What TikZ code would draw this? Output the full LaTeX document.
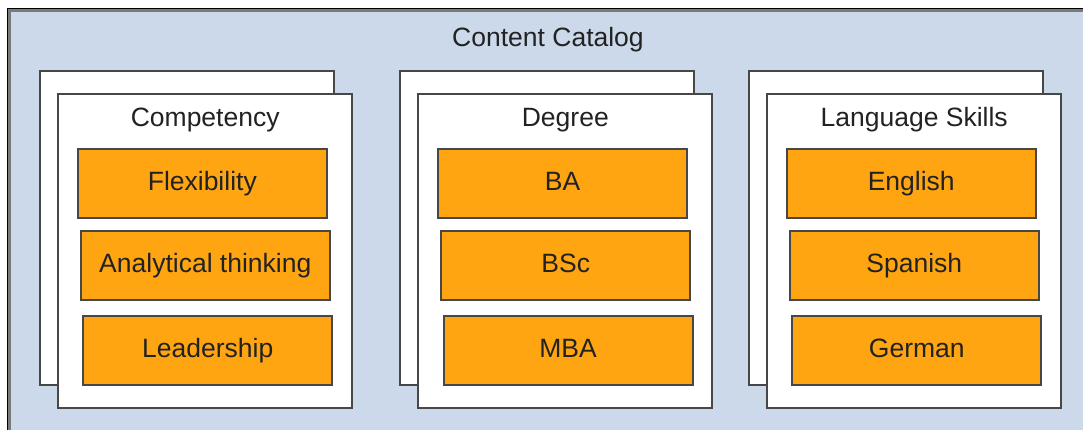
\documentclass[tikz,border=0pt]{standalone}
\usepackage{fontspec}
\setmainfont{Liberation Sans}
\usepackage{tikz}
\usetikzlibrary{positioning}
\definecolor{catblue}{HTML}{CCD9EA}
\definecolor{itemorange}{HTML}{FFA512}
\definecolor{edgegray}{HTML}{474747}
\definecolor{framegray}{HTML}{7A7A7A}
\definecolor{textgray}{HTML}{222222}
\newcommand{\lbl}{\fontsize{26.5}{30}\selectfont}
\tikzstyle{sheet} = [
    draw=edgegray,
    line width=2pt,
    fill=white,
    inner sep=0pt,
    minimum width=294pt,
    minimum height=314pt
]
\tikzstyle{item}  = [
    draw=edgegray,
    line width=2pt,
    fill=itemorange,
    inner sep=0pt,
    minimum width=249pt,
    minimum height=69pt,
    text=textgray,
    font=\lbl,
    text height=19pt,
    text depth=5pt
]
\tikzstyle{head}  = [
    inner sep=0pt,
    text=textgray,
    font=\lbl,
    text height=19pt,
    text depth=5pt
]

\begin{document}
\begin{tikzpicture}[x = 1pt, y = -1pt]
\useasboundingbox (0,0) rectangle (1083,429);
\clip (0,0) rectangle (1083,429);
% catalog frame
\draw[black, line width=1pt] (7,8) rectangle (1100,450);
\draw[framegray, line width=3pt, fill=catblue] (9.5,10.5) rectangle (1100,450);
\node[head] (catalog) at (548,39) {Content Catalog};

% competency
\node[sheet] (compB) at (186.7,227.6) {};
\node[sheet] (compF) at (205.2,250.6) {};
\node[head]  (compH) at (205.2,119.5) {Competency};
\node[item]  (flex)  at (202.3,183.5) {Flexibility};
\node[item]  (anal)  at (205.3,265)   {Analytical thinking};
\node[item]  (lead)  at (207.8,350)   {Leadership};

% degree
\node[sheet] (degB) at (546.8,227.6) {};
\node[sheet] (degF) at (565.3,250.6) {};
\node[head]  (degH) at (565.3,119.5) {Degree};
\node[item]  (ba)   at (562.5,183.5) {BA};
\node[item]  (bsc)  at (565.7,265)   {BSc};
\node[item]  (mba)  at (568.1,350)   {MBA};

% language skills
\node[sheet] (langB) at (895.7,227.6) {};
\node[sheet] (langF) at (914.2,250.6) {};
\node[head]  (langH) at (914.2,119.5) {Language Skills};
\node[item]  (eng)   at (911.2,183.5) {English};
\node[item]  (spa)   at (914.3,265)   {Spanish};
\node[item]  (ger)   at (916.8,350)   {German};

\end{tikzpicture}
\end{document}
